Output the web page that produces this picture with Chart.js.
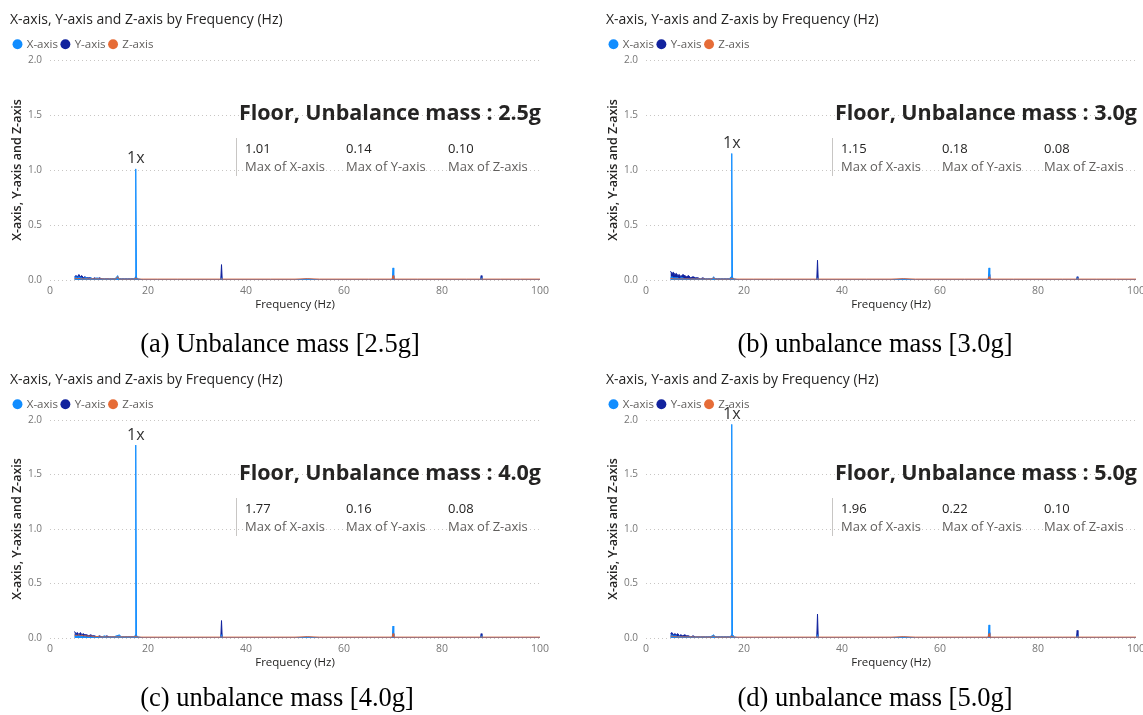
<!DOCTYPE html>
<html>
<head>
<meta charset="utf-8">
<script src="https://cdn.jsdelivr.net/npm/chart.js@4.4.1/dist/chart.umd.min.js"></script>
<style>
  html, body { margin: 0; padding: 0; background: #fff; }
  body { width: 1143px; height: 715px; overflow: hidden; position: relative; font-family: "Open Sans", sans-serif; }
  .panel { position: absolute; width: 560px; height: 330px; }
  .panel canvas { position: absolute; left: 0; top: 0; }
  .card-title { position: absolute; right: 19px; top: 95px; margin: 0; font: 700 21.5px "Open Sans", sans-serif; color: #252423; white-space: nowrap; line-height: 34px; }
  .card-line { position: absolute; left: 236px; top: 138px; width: 1px; height: 38px; background: #c8c6c4; }
  .kpi { position: absolute; font: 13px "Open Sans", sans-serif; line-height: 17px; white-space: nowrap; }
  .kpi .v { color: #252423; }
  .kpi .l { color: #605e5c; margin-top: 1px; }
  .caption { position: absolute; font: 26.5px "Liberation Serif", "Times New Roman", serif; color: #000; white-space: nowrap; transform: translate(-50%, -50%); }
</style>
</head>
<body>
<script>
// shared frequency axis (Hz)
const freqHz = [5.0, 5.3, 5.6, 5.9, 6.2, 6.5, 6.8, 7.1, 7.5, 7.9,
  8.3, 8.7, 9.1, 9.6, 10.1, 10.6, 11.1, 11.6, 12.1, 12.6,
  13.1, 13.5, 13.8, 14.1, 14.6, 15.2, 15.8, 16.4, 17.0, 17.35,
  17.5, 17.65, 18.1, 19.0, 22.0, 26.0, 30.0, 34.85, 35.0, 35.15,
  40.0, 45.0, 50.0, 52.5, 55.0, 60.0, 65.0, 69.85, 70.0, 70.15,
  75.0, 80.0, 85.0, 87.85, 88.0, 88.15, 92.0, 96.0, 100.0];

// (a) 2.5g
const xAxisA = [0.02, 0.03, 0.02, 0.03, 0.02, 0.02, 0.01, 0.02, 0.02, 0.01,
  0.02, 0.01, 0.01, 0.02, 0.01, 0.01, 0.01, 0.01, 0.01, 0.01,
  0.01, 0.02, 0.04, 0.01, 0.01, 0.01, 0.01, 0.01, 0.01, 0.02,
  1.01, 0.02, 0.01, 0.00, 0.00, 0.00, 0.00, 0.00, 0.02, 0.00,
  0.00, 0.00, 0.00, 0.01, 0.00, 0.00, 0.00, 0.00, 0.11, 0.00,
  0.00, 0.00, 0.00, 0.00, 0.02, 0.00, 0.00, 0.00, 0.00];
const yAxisA = [0.03, 0.04, 0.03, 0.05, 0.03, 0.04, 0.02, 0.03, 0.02, 0.02,
  0.02, 0.01, 0.02, 0.01, 0.02, 0.01, 0.01, 0.01, 0.01, 0.01,
  0.01, 0.01, 0.02, 0.01, 0.01, 0.01, 0.01, 0.01, 0.01, 0.01,
  0.03, 0.01, 0.00, 0.00, 0.00, 0.00, 0.00, 0.00, 0.14, 0.00,
  0.00, 0.00, 0.00, 0.00, 0.00, 0.00, 0.00, 0.00, 0.04, 0.00,
  0.00, 0.00, 0.00, 0.00, 0.04, 0.00, 0.00, 0.00, 0.00];
const zAxisA = [0.01, 0.015, 0.01, 0.015, 0.01, 0.01, 0.01, 0.01, 0.01, 0.01,
  0.01, 0.01, 0.01, 0.01, 0.01, 0.01, 0.008, 0.01, 0.008, 0.01,
  0.008, 0.01, 0.03, 0.008, 0.008, 0.008, 0.008, 0.008, 0.008, 0.01,
  0.02, 0.01, 0.008, 0.008, 0.008, 0.008, 0.008, 0.008, 0.01, 0.008,
  0.008, 0.008, 0.008, 0.012, 0.008, 0.008, 0.008, 0.008, 0.04, 0.008,
  0.008, 0.008, 0.008, 0.008, 0.01, 0.008, 0.008, 0.008, 0.008];

// (b) 3.0g
const xAxisB = [0.02, 0.03, 0.02, 0.02, 0.02, 0.02, 0.01, 0.02, 0.02, 0.01,
  0.01, 0.01, 0.01, 0.01, 0.01, 0.01, 0.01, 0.01, 0.01, 0.01,
  0.01, 0.01, 0.03, 0.01, 0.01, 0.01, 0.01, 0.01, 0.01, 0.03,
  1.15, 0.02, 0.01, 0.00, 0.00, 0.00, 0.00, 0.00, 0.02, 0.00,
  0.00, 0.00, 0.00, 0.01, 0.00, 0.00, 0.00, 0.00, 0.11, 0.00,
  0.00, 0.00, 0.00, 0.00, 0.02, 0.00, 0.00, 0.00, 0.00];
const yAxisB = [0.08, 0.06, 0.07, 0.05, 0.06, 0.04, 0.05, 0.03, 0.05, 0.04,
  0.03, 0.04, 0.02, 0.03, 0.02, 0.02, 0.01, 0.02, 0.01, 0.01,
  0.01, 0.01, 0.02, 0.01, 0.01, 0.01, 0.01, 0.01, 0.01, 0.01,
  0.03, 0.01, 0.00, 0.00, 0.00, 0.00, 0.00, 0.00, 0.18, 0.00,
  0.00, 0.00, 0.00, 0.00, 0.00, 0.00, 0.00, 0.00, 0.05, 0.00,
  0.00, 0.00, 0.00, 0.00, 0.03, 0.00, 0.00, 0.00, 0.00];
const zAxisB = [0.01, 0.015, 0.01, 0.01, 0.01, 0.01, 0.01, 0.01, 0.01, 0.01,
  0.01, 0.01, 0.008, 0.01, 0.008, 0.01, 0.008, 0.01, 0.008, 0.008,
  0.008, 0.01, 0.02, 0.008, 0.008, 0.008, 0.008, 0.008, 0.008, 0.01,
  0.02, 0.01, 0.008, 0.008, 0.008, 0.008, 0.008, 0.008, 0.01, 0.008,
  0.008, 0.008, 0.008, 0.012, 0.008, 0.008, 0.008, 0.008, 0.03, 0.008,
  0.008, 0.008, 0.008, 0.008, 0.01, 0.008, 0.008, 0.008, 0.008];

// (c) 4.0g
const xAxisC = [0.02, 0.03, 0.02, 0.02, 0.02, 0.02, 0.01, 0.02, 0.01, 0.01,
  0.01, 0.01, 0.01, 0.01, 0.01, 0.01, 0.02, 0.01, 0.01, 0.01,
  0.01, 0.02, 0.02, 0.03, 0.01, 0.01, 0.01, 0.01, 0.01, 0.02,
  1.77, 0.02, 0.01, 0.00, 0.00, 0.00, 0.00, 0.00, 0.03, 0.00,
  0.00, 0.00, 0.00, 0.01, 0.00, 0.00, 0.00, 0.00, 0.11, 0.00,
  0.00, 0.00, 0.00, 0.00, 0.02, 0.00, 0.00, 0.00, 0.00];
const yAxisC = [0.06, 0.04, 0.05, 0.03, 0.05, 0.03, 0.04, 0.03, 0.03, 0.02,
  0.03, 0.02, 0.02, 0.01, 0.02, 0.01, 0.01, 0.02, 0.01, 0.01,
  0.01, 0.01, 0.02, 0.01, 0.01, 0.01, 0.01, 0.01, 0.01, 0.01,
  0.03, 0.01, 0.00, 0.00, 0.00, 0.00, 0.00, 0.00, 0.16, 0.00,
  0.00, 0.00, 0.00, 0.00, 0.00, 0.00, 0.00, 0.00, 0.04, 0.00,
  0.00, 0.00, 0.00, 0.00, 0.04, 0.00, 0.00, 0.00, 0.00];
const zAxisC = [0.03, 0.02, 0.025, 0.03, 0.02, 0.025, 0.02, 0.02, 0.02, 0.015,
  0.02, 0.015, 0.01, 0.015, 0.01, 0.01, 0.01, 0.01, 0.01, 0.01,
  0.01, 0.01, 0.01, 0.01, 0.01, 0.01, 0.01, 0.01, 0.01, 0.01,
  0.02, 0.01, 0.008, 0.008, 0.008, 0.008, 0.008, 0.008, 0.01, 0.008,
  0.008, 0.008, 0.008, 0.012, 0.008, 0.008, 0.008, 0.008, 0.04, 0.008,
  0.008, 0.008, 0.008, 0.008, 0.01, 0.008, 0.008, 0.008, 0.008];

// (d) 5.0g
const xAxisD = [0.02, 0.03, 0.02, 0.02, 0.02, 0.01, 0.02, 0.01, 0.01, 0.01,
  0.01, 0.01, 0.01, 0.01, 0.01, 0.01, 0.01, 0.01, 0.01, 0.01,
  0.01, 0.02, 0.03, 0.01, 0.01, 0.01, 0.01, 0.01, 0.01, 0.02,
  1.96, 0.03, 0.01, 0.00, 0.00, 0.00, 0.00, 0.00, 0.03, 0.00,
  0.00, 0.00, 0.00, 0.01, 0.00, 0.00, 0.00, 0.00, 0.12, 0.00,
  0.00, 0.00, 0.00, 0.00, 0.02, 0.00, 0.00, 0.00, 0.00];
const yAxisD = [0.04, 0.05, 0.03, 0.04, 0.03, 0.04, 0.02, 0.03, 0.02, 0.03,
  0.02, 0.02, 0.01, 0.02, 0.01, 0.01, 0.01, 0.01, 0.01, 0.01,
  0.01, 0.01, 0.02, 0.01, 0.01, 0.01, 0.01, 0.01, 0.01, 0.01,
  0.03, 0.01, 0.00, 0.00, 0.00, 0.00, 0.00, 0.00, 0.22, 0.00,
  0.00, 0.00, 0.00, 0.00, 0.00, 0.00, 0.00, 0.00, 0.05, 0.00,
  0.00, 0.00, 0.00, 0.00, 0.07, 0.00, 0.00, 0.00, 0.00];
const zAxisD = [0.01, 0.02, 0.01, 0.015, 0.01, 0.01, 0.01, 0.01, 0.01, 0.01,
  0.01, 0.01, 0.01, 0.01, 0.008, 0.01, 0.008, 0.01, 0.008, 0.008,
  0.008, 0.01, 0.02, 0.008, 0.008, 0.008, 0.008, 0.008, 0.008, 0.01,
  0.02, 0.01, 0.008, 0.008, 0.008, 0.008, 0.008, 0.008, 0.01, 0.008,
  0.008, 0.008, 0.008, 0.012, 0.008, 0.008, 0.008, 0.008, 0.04, 0.008,
  0.008, 0.008, 0.008, 0.008, 0.01, 0.008, 0.008, 0.008, 0.008];

// card texts
const massLabels = ['2.5g', '3.0g', '4.0g', '5.0g'];
const maxXAxis = ['1.01', '1.15', '1.77', '1.96'];
const maxYAxis = ['0.14', '0.18', '0.16', '0.22'];
const maxZAxis = ['0.10', '0.08', '0.08', '0.10'];
const captions = ['(a) Unbalance mass [2.5g]', '(b) unbalance mass [3.0g]',
  '(c) unbalance mass [4.0g]', '(d) unbalance mass [5.0g]'];

const yTicks = [0, 0.5, 1.0, 1.5, 2.0];
const seriesNames = ['X-axis', 'Y-axis', 'Z-axis'];
const seriesColors = ['#118DFF', '#12239E', '#E66C37'];

const panelData = [
  [xAxisA, yAxisA, zAxisA],
  [xAxisB, yAxisB, zAxisB],
  [xAxisC, yAxisC, zAxisC],
  [xAxisD, yAxisD, zAxisD]
];
// layout of the four panels
const panelBoxes = [
  { left: 0, top: 0, bottomPad: 10, capX: 280, capY: 343 },
  { left: 596, top: 0, bottomPad: 10, capX: 875, capY: 343 },
  { left: 0, top: 360, bottomPad: 12, capX: 277, capY: 697 },
  { left: 596, top: 360, bottomPad: 12, capX: 875, capY: 697 }
];

Chart.defaults.font.family = '"Open Sans", sans-serif';

// writes "1x" above the largest X-axis peak
const harmonicLabel = {
  id: 'harmonicLabel',
  afterDatasetsDraw(chart) {
    const pts = chart.data.datasets[0].data;
    let peak = pts[0];
    pts.forEach(function (p) { if (p.y > peak.y) peak = p; });
    const px = chart.scales.x.getPixelForValue(peak.x);
    const py = chart.scales.y.getPixelForValue(peak.y);
    const ctx = chart.ctx;
    ctx.save();
    ctx.font = '16px "Open Sans", sans-serif';
    ctx.fillStyle = '#333';
    ctx.textAlign = 'center';
    ctx.textBaseline = 'bottom';
    ctx.fillText('1x', px, py - 2);
    ctx.restore();
  }
};

const toPoints = function (values) {
  return freqHz.map(function (f, i) { return { x: f, y: values[i] }; });
};

panelBoxes.forEach(function (box, k) {
  const panel = document.createElement('div');
  panel.className = 'panel';
  panel.style.left = box.left + 'px';
  panel.style.top = box.top + 'px';
  document.body.appendChild(panel);

  const canvas = document.createElement('canvas');
  canvas.width = 560;
  canvas.height = 330;
  panel.appendChild(canvas);

  const series = panelData[k];
  new Chart(canvas, {
    type: 'line',
    data: {
      datasets: series.map(function (vals, i) {
        return {
          label: seriesNames[i],
          data: toPoints(vals),
          borderColor: i === 2 ? '#d2603a' : seriesColors[i],
          backgroundColor: seriesColors[i],
          borderWidth: 1,
          pointRadius: 0,
          tension: 0,
          fill: i < 2 ? 'origin' : false,
          order: i === 2 ? 0 : i + 1
        };
      })
    },
    options: {
      responsive: false,
      animation: false,
      layout: { padding: { left: 10, right: 20, top: 0, bottom: box.bottomPad } },
      plugins: {
        tooltip: { enabled: false },
        title: {
          display: true,
          text: 'X-axis, Y-axis and Z-axis by Frequency (Hz)',
          align: 'start',
          color: '#252423',
          font: { size: 14, weight: 'normal' },
          padding: { top: 5, bottom: 6.5 }
        },
        legend: {
          display: true,
          align: 'start',
          labels: {
            usePointStyle: true,
            pointStyle: 'circle',
            boxWidth: 7,
            boxHeight: 7,
            padding: 4,
            color: '#605e5c',
            font: { size: 11.5 },
            sort: function (a, b) { return a.datasetIndex - b.datasetIndex; },
            generateLabels: function (chart) {
              return chart.data.datasets.map(function (ds, i) {
                return {
                  text: ds.label,
                  fillStyle: seriesColors[i],
                  strokeStyle: seriesColors[i],
                  lineWidth: 0,
                  pointStyle: 'circle',
                  fontColor: '#605e5c',
                  datasetIndex: i
                };
              });
            }
          }
        }
      },
      scales: {
        x: {
          type: 'linear',
          min: 0,
          max: 100,
          ticks: { stepSize: 20, color: '#777', padding: 5, font: { size: 10.5 } },
          grid: { display: false, drawTicks: false },
          border: { display: false },
          title: { display: true, text: 'Frequency (Hz)', color: '#252423', font: { size: 11.5 }, padding: { top: 0, bottom: 8 } },
          afterFit: function (s) { s.height = 40; }
        },
        y: {
          min: 0,
          max: 2,
          afterBuildTicks: function (s) { s.ticks = yTicks.map(function (v) { return { value: v }; }); },
          ticks: {
            color: '#777',
            padding: 8,
            font: { size: 10 },
            callback: function (v) { return Number(v).toFixed(1); }
          },
          grid: { color: '#c8c6c4', drawTicks: false },
          border: { display: false, dash: [1, 3] },
          title: { display: true, text: 'X-axis, Y-axis and Z-axis', color: '#252423', font: { size: 12.5, weight: '600' }, padding: { top: 0, bottom: 0 } },
          afterFit: function (s) { s.width = 40; s.paddingTop = 60; }
        }
      }
    },
    plugins: [harmonicLabel]
  });

  // KPI card
  const title = document.createElement('div');
  title.className = 'card-title';
  title.textContent = 'Floor, Unbalance mass : ' + massLabels[k];
  panel.appendChild(title);

  const line = document.createElement('div');
  line.className = 'card-line';
  panel.appendChild(line);

  const kpis = [[maxXAxis[k], 'Max of X-axis'], [maxYAxis[k], 'Max of Y-axis'], [maxZAxis[k], 'Max of Z-axis']];
  const kpiLeft = [245, 346, 448];
  kpis.forEach(function (kv, j) {
    const d = document.createElement('div');
    d.className = 'kpi';
    d.style.left = kpiLeft[j] + 'px';
    d.style.top = '140px';
    d.innerHTML = '<div class="v"></div><div class="l"></div>';
    d.querySelector('.v').textContent = kv[0];
    d.querySelector('.l').textContent = kv[1];
    panel.appendChild(d);
  });

  const cap = document.createElement('div');
  cap.className = 'caption';
  cap.style.left = box.capX + 'px';
  cap.style.top = box.capY + 'px';
  cap.textContent = captions[k];
  document.body.appendChild(cap);
});
</script>
</body>
</html>
